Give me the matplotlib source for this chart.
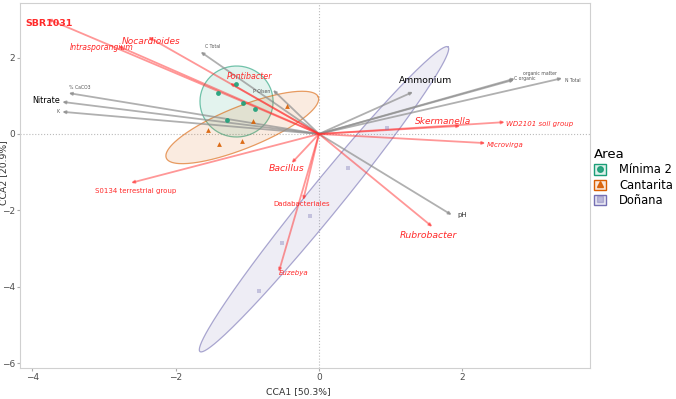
import numpy as np
import matplotlib
matplotlib.use("Agg")
import matplotlib.pyplot as plt
from matplotlib.patches import Patch
from matplotlib.lines import Line2D
from matplotlib.legend_handler import HandlerTuple

# site scores per area
areas = ["Mínima 2", "Cantarita", "Doñana"]
minima_x = [-1.16, -1.41, -1.06, -0.89, -1.28]
minima_y = [1.31, 1.07, 0.81, 0.65, 0.37]
cantarita_x = [-1.55, -1.39, -1.07, -0.92, -0.45]
cantarita_y = [0.10, -0.26, -0.18, 0.34, 0.73]
donana_x = [0.95, 0.40, -0.13, -0.52, -0.84]
donana_y = [0.16, -0.89, -2.15, -2.85, -4.11]

# 95% ellipses: centre and two conjugate half-axes (data units)
ell_center = [(-1.15, 0.85), (-1.07, 0.17), (0.07, -1.71)]
ell_major = [(0.51, 0.0), (1.06, 0.80), (1.73, 3.99)]
ell_minor = [(0.0, 0.93), (0.109, -0.51), (0.179, -0.272)]

# environmental vectors
env_names = ["C Total", "% CaCO3", "Nitrate", "K", "P Olsen", "Ammonium",
             "organic matter", "C organic", "N Total", "pH"]
env_x = [-1.65, -3.49, -3.58, -3.58, -0.64, 1.31, 2.73, 2.72, 3.39, 1.85]
env_y = [2.15, 1.07, 0.84, 0.58, 1.15, 1.10, 1.45, 1.42, 1.46, -2.12]

# taxa vectors
taxa_names = ["SBR1031", "Intrasporangium", "Nocardioides", "Pontibacter",
              "S0134 terrestrial group", "Bacillus", "Dadabacteriales", "Euzebya",
              "Skermanella", "WD2101 soil group", "Microvirga", "Rubrobacter"]
taxa_x = [-3.78, -2.80, -2.38, -1.24, -2.62, -0.38, -0.22, -0.56, 1.97, 2.59, 2.32, 1.58]
taxa_y = [3.01, 2.30, 2.54, 1.33, -1.28, -0.76, -1.73, -3.61, 0.21, 0.31, -0.24, -2.43]

# label styling: (dx, dy in points, ha, fontsize, style, weight, color)
env_style = [
    (3, 4, "left", 3.3, "normal", "normal", "#555555"),
    (0, 4, "left", 3.3, "normal", "normal", "#555555"),
    (-2, 1, "right", 5.8, "normal", "normal", "black"),
    (-2, 0, "right", 3.3, "normal", "normal", "#555555"),
    (-2, -1, "right", 3.3, "normal", "normal", "#555555"),
    (9, 8, "center", 6.6, "normal", "normal", "black"),
    (6, 4, "left", 3.3, "normal", "normal", "#555555"),
    (0, 1, "left", 3.3, "normal", "normal", "#555555"),
    (2, -2, "left", 3.3, "normal", "normal", "#555555"),
    (4, 0, "left", 5, "normal", "normal", "#333333"),
]
taxa_style = [
    (1, -3, "center", 6.8, "normal", "bold", "#ff2a2a"),
    (-12, -1, "center", 5.6, "italic", "normal", "#ff2a2a"),
    (2, -3, "center", 6.5, "italic", "normal", "#ff2a2a"),
    (14, 5, "center", 5.7, "italic", "normal", "#ff2a2a"),
    (3, -6, "center", 5, "normal", "normal", "#ff2a2a"),
    (-4, -4, "center", 6.7, "italic", "normal", "#ff2a2a"),
    (-1, -3, "center", 5, "normal", "normal", "#ff2a2a"),
    (0, -1, "left", 5, "italic", "normal", "#ff2a2a"),
    (-12, 3, "center", 6.5, "italic", "normal", "#ff2a2a"),
    (1, -1, "left", 5, "italic", "normal", "#ff2a2a"),
    (1, -1, "left", 5, "italic", "normal", "#ff2a2a"),
    (-3, -6, "center", 6.7, "italic", "normal", "#ff2a2a"),
]

colors = ["#1b9e77", "#d95f02", "#7570b3"]
markers = ["o", "^", "s"]

fig = plt.figure(figsize=(6.76, 3.99), dpi=100)
ax = fig.add_axes([20 / 676, 1 - 368 / 399, 570 / 676, 365 / 399])

ax.axhline(0, color="#bbbbbb", lw=0.8, ls=":", zorder=0)
ax.axvline(0, color="#bbbbbb", lw=0.8, ls=":", zorder=0)

# ellipses
t = np.linspace(0, 2 * np.pi, 200)
for c, a, b, col in zip(ell_center, ell_major, ell_minor, colors):
    ex = c[0] + a[0] * np.cos(t) + b[0] * np.sin(t)
    ey = c[1] + a[1] * np.cos(t) + b[1] * np.sin(t)
    ax.fill(ex, ey, facecolor=col, alpha=0.12, edgecolor="none", zorder=1)
    ax.plot(ex, ey, color=col, lw=0.9, alpha=0.6, zorder=1)

# sites
site_x = [minima_x, cantarita_x, donana_x]
site_y = [minima_y, cantarita_y, donana_y]
for xs, ys, col, m in zip(site_x, site_y, colors, markers):
    alpha = 0.35 if m == "s" else 0.9
    ax.scatter(xs, ys, color=col, marker=m, s=12, alpha=alpha, lw=0, zorder=3)

# arrows
for x, y in zip(env_x, env_y):
    ax.annotate("", xy=(x, y), xytext=(0, 0), zorder=2,
                arrowprops=dict(arrowstyle="-|>", mutation_scale=4, lw=1.3,
                                color="#8f8f8f", alpha=0.7, shrinkA=0, shrinkB=0))
for x, y in zip(taxa_x, taxa_y):
    ax.annotate("", xy=(x, y), xytext=(0, 0), zorder=2,
                arrowprops=dict(arrowstyle="-|>", mutation_scale=4, lw=1.3,
                                color="#ff3030", alpha=0.5, shrinkA=0, shrinkB=0))

for name, x, y, st in zip(env_names, env_x, env_y, env_style):
    dx, dy, ha, fs, style, weight, col = st
    ax.annotate(name, (x, y), xytext=(dx, dy), textcoords="offset points",
                ha=ha, va="center", fontsize=fs, style=style, weight=weight,
                color=col, zorder=4)
for name, x, y, st in zip(taxa_names, taxa_x, taxa_y, taxa_style):
    dx, dy, ha, fs, style, weight, col = st
    ax.annotate(name, (x, y), xytext=(dx, dy), textcoords="offset points",
                ha=ha, va="center", fontsize=fs, style=style, weight=weight,
                color=col, zorder=4)

ax.set_xlim(-4.17, 3.78)
ax.set_ylim(-6.13, 3.43)
ax.set_xticks([-4, -2, 0, 2])
ax.set_yticks([-6, -4, -2, 0, 2])
ax.tick_params(labelsize=6.5, labelcolor="#4d4d4d", color="#aaaaaa", length=2, pad=1.5)
for s in ax.spines.values():
    s.set_color("#d0d0d0")
ax.set_xlabel("CCA1 [50.3%]", fontsize=6.7, color="#333333")
ax.set_ylabel("CCA2 [20.9%]", fontsize=6.7, color="#333333")
ax.xaxis.set_label_coords(0.489, -0.052)
ax.yaxis.set_label_coords(-0.021, 0.535)

handles = []
for col, m in zip(colors, markers):
    box = Patch(facecolor=(*matplotlib.colors.to_rgb(col), 0.15), edgecolor=col, lw=1.0)
    mk = Line2D([0], [0], marker=m, color=col, lw=0, markersize=4,
                alpha=0.4 if m == "s" else 0.9)
    handles.append((box, mk))
leg = fig.legend(handles, areas, handler_map={tuple: HandlerTuple(ndivide=1, pad=0)},
                 loc="upper left", bbox_to_anchor=(594 / 676, 1 - 148 / 399),
                 title="Area", fontsize=8.3, title_fontsize=9.5, frameon=False,
                 borderpad=0, borderaxespad=0,
                 handlelength=1.0, handleheight=1.0, handletextpad=1.2,
                 labelspacing=0.2, alignment="left")

fig.savefig("out.png", dpi=100)
